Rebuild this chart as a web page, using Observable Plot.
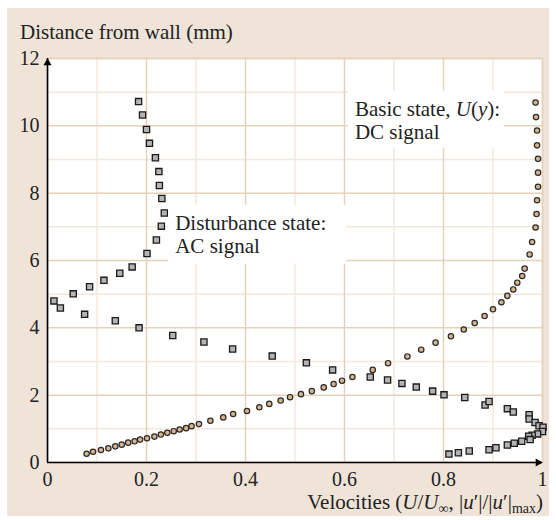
<!DOCTYPE html>
<html><head><meta charset="utf-8">
<script src="https://cdn.jsdelivr.net/npm/d3@7"></script>
<script src="https://cdn.jsdelivr.net/npm/@observablehq/plot@0.6"></script>
<style>
body{margin:0;background:#fff;}
#panel{position:absolute;left:7px;top:8px;width:542px;height:508px;background:#efe4d7;}
svg text{font-family:"Liberation Serif","Times New Roman",serif;}
</style></head><body><div id="panel"></div>
<script>
// Disturbance state (AC signal): |u'|/|u'|max vs distance from wall (mm)
const acVel = [0.184,0.192,0.200,0.206,0.218,0.225,0.226,0.231,0.236,0.230,0.220,0.201,0.171,0.146,0.114,0.085,0.052,0.013,0.026,0.075,0.137,0.185,0.253,0.316,0.374,0.454,0.523,0.576,0.652,0.687,0.716,0.745,0.778,0.801,0.843,0.884,0.892,0.929,0.941,0.973,0.973,0.985,0.993,1.001,1.000,0.990,0.979,0.972,0.975,0.958,0.943,0.929,0.906,0.892,0.852,0.830,0.811];
const acDist = [10.72,10.32,9.89,9.48,9.05,8.64,8.23,7.84,7.41,7.02,6.61,6.21,5.81,5.62,5.41,5.22,5.01,4.80,4.59,4.40,4.21,4.00,3.77,3.58,3.37,3.16,2.96,2.75,2.54,2.45,2.35,2.24,2.12,2.01,1.93,1.71,1.81,1.60,1.50,1.42,1.29,1.19,1.09,1.05,0.92,0.85,0.81,0.78,0.68,0.63,0.57,0.52,0.44,0.38,0.34,0.29,0.25];
// Basic state (DC signal): U/U∞ vs distance from wall (mm)
const dcVel = [0.079,0.092,0.108,0.123,0.137,0.150,0.163,0.176,0.187,0.201,0.216,0.229,0.242,0.255,0.267,0.280,0.291,0.306,0.329,0.355,0.375,0.403,0.428,0.448,0.471,0.490,0.512,0.534,0.558,0.578,0.595,0.616,0.657,0.688,0.727,0.755,0.784,0.815,0.841,0.863,0.883,0.900,0.917,0.929,0.941,0.949,0.959,0.964,0.974,0.979,0.986,0.988,0.989,0.991,0.991,0.991,0.989,0.989,0.987,0.986];
const dcDist = [0.26,0.32,0.37,0.42,0.48,0.53,0.59,0.63,0.68,0.72,0.77,0.83,0.88,0.93,0.98,1.02,1.08,1.14,1.24,1.34,1.44,1.53,1.64,1.74,1.84,1.94,2.03,2.12,2.23,2.33,2.43,2.54,2.75,2.95,3.15,3.35,3.56,3.75,3.95,4.14,4.35,4.55,4.76,4.95,5.14,5.34,5.54,5.76,6.18,6.55,6.98,7.38,7.79,8.19,8.61,9.02,9.42,9.86,10.26,10.69];

const xMajor = [0,0.2,0.4,0.6,0.8,1];
const xMinor = [0.1,0.3,0.5,0.7,0.9];
const xTickLabels = ["0","0.2","0.4","0.6","0.8","1"];
const yMajor = [0,2,4,6,8,10,12];
const yMinor = [1,3,5,7,9,11];
const yTickLabels = ["0","2","4","6","8","10","12"];

const ac = acVel.map((v,i)=>({v, d: acDist[i]}));
const dc = dcVel.map((v,i)=>({v, d: dcDist[i]}));

const gridMajor = "#e6d2bb", gridMinor = "#f3e7db";
const FONT = '"Liberation Serif","Times New Roman",serif';

const plot = Plot.plot({
  width: 542, height: 508,
  marginLeft: 40, marginRight: 7, marginTop: 50, marginBottom: 54,
  style: {background: "transparent", fontFamily: FONT, fontSize: "20px", color: "#222", overflow: "visible"},
  x: {domain: [0,1]},
  y: {domain: [0,12]},
  marks: [
    Plot.frame({fill: "white", stroke: null}),
    Plot.gridX(xMinor, {stroke: gridMinor, strokeOpacity: 1, strokeWidth: 1.5}),
    Plot.gridY(yMinor, {stroke: gridMinor, strokeOpacity: 1, strokeWidth: 1.5}),
    Plot.gridX(xMajor, {stroke: gridMajor, strokeOpacity: 1, strokeWidth: 1.5}),
    Plot.gridY(yMajor, {stroke: gridMajor, strokeOpacity: 1, strokeWidth: 1.5}),
    Plot.frame({stroke: gridMajor, strokeWidth: 1.5}),
    Plot.axisX(xMajor, {tickSize: 0, tickPadding: 9, fontSize: 20, label: null,
      tickFormat: d => xTickLabels[xMajor.indexOf(d)]}),
    Plot.axisY(yMajor, {tickSize: 0, tickPadding: 8, fontSize: 20, label: null,
      tickFormat: d => yTickLabels[yMajor.indexOf(d)]}),
    Plot.ruleX([0], {y1: 0, y2: 12, stroke: "#000", strokeWidth: 1.6}),
    Plot.ruleY([0], {x1: 0, x2: 1, stroke: "#000", strokeWidth: 1.6}),
    Plot.dot([{v:0,d:12}], {x:"v", y:"d", symbol:"triangle", r:3, fill:"#000", stroke:null, dy: 4.5}),
    Plot.dot([{v:1,d:0}], {x:"v", y:"d", symbol:"triangle", r:3, fill:"#000", stroke:null, rotate: 90, dx: -4.5}),
    Plot.dot(dc, {x:"v", y:"d", r: 2.7, fill: "#d6b48c", stroke: "#2a2a2a", strokeWidth: 1.2}),
    Plot.dot(ac, {x:"v", y:"d", symbol: "square", r: 3.5, fill: "#b4b4b4", stroke: "#1a1a1a", strokeWidth: 1.3})
  ]
});

document.getElementById("panel").appendChild(plot);
const svg = d3.select(plot);
const sx = plot.scale("x"), sy = plot.scale("y");

// Axis titles
svg.append("text").attr("x", 13).attr("y", 31).attr("font-size", 21).attr("fill", "#222")
  .attr("text-anchor", "start").text("Distance from wall (mm)");

const vt = svg.append("text").attr("x", 536).attr("y", 501).attr("font-size", 21)
  .attr("text-anchor", "end").attr("fill", "#222");
vt.append("tspan").text("Velocities (");
vt.append("tspan").attr("font-style", "italic").text("U");
vt.append("tspan").text("/");
vt.append("tspan").attr("font-style", "italic").text("U");
vt.append("tspan").attr("font-size", 14).attr("dy", 4).text("\u221E");
vt.append("tspan").attr("dy", -4).text(", |");
vt.append("tspan").attr("font-style", "italic").text("u");
vt.append("tspan").text("\u2032|/|");
vt.append("tspan").attr("font-style", "italic").text("u");
vt.append("tspan").text("\u2032|");
vt.append("tspan").attr("font-size", 14).attr("dy", 4).text("max");
vt.append("tspan").attr("dy", -4).text(")");

// Annotations with white boxes
function label(xv, yv, lines, pad) {
  const g = svg.append("g");
  const t = g.append("text").attr("x", sx.apply(xv)).attr("y", sy.apply(yv))
    .attr("font-size", 21).attr("fill", "#222").attr("text-anchor", "start");
  lines.forEach((parts, i) => {
    parts.forEach((p, j) => {
      const ts = t.append("tspan").text(p.t);
      if (j === 0) ts.attr("x", sx.apply(xv)).attr("dy", i === 0 ? 0 : 23);
      if (p.i) ts.attr("font-style", "italic");
    });
  });
  const b = t.node().getBBox();
  g.insert("rect", "text").attr("x", b.x - pad[3]).attr("y", b.y - pad[0])
    .attr("width", b.width + pad[1] + pad[3]).attr("height", b.height + pad[0] + pad[2])
    .attr("fill", "white");
}
label(0.259, 6.9, [[{t:"Disturbance state:"}],[{t:"AC signal"}]], [6, 20, 6, 7]);
label(0.622, 10.27, [[{t:"Basic state, "},{t:"U",i:true},{t:"("},{t:"y",i:true},{t:"):"}],[{t:"DC signal"}]], [7, 4, 4, 7]);
</script></body></html>
